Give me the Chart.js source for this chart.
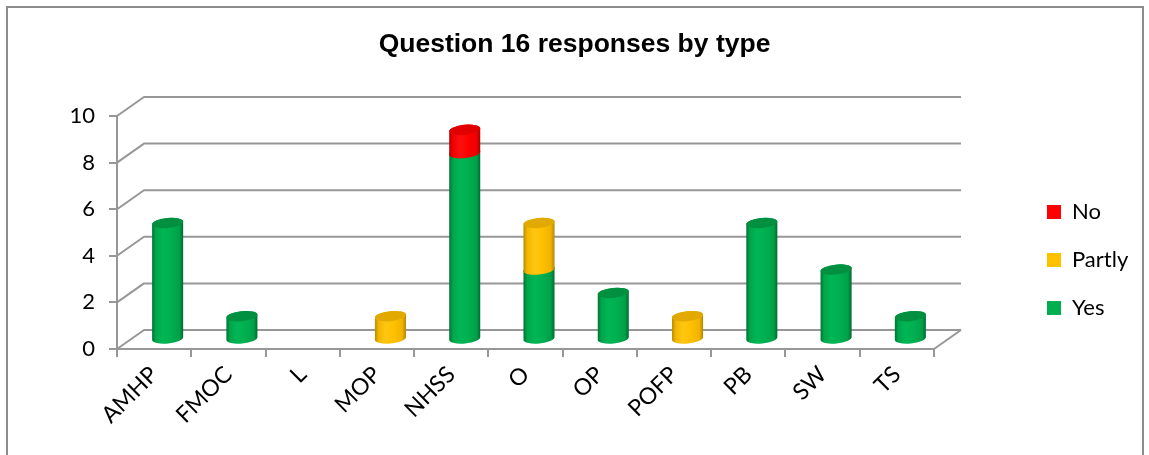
<!DOCTYPE html>
<html>
<head>
<meta charset="utf-8">
<script src="https://cdn.jsdelivr.net/npm/chart.js@4"></script>
<style>
  html, body { margin: 0; padding: 0; background: #ffffff; overflow: hidden; }
  #frame { position: absolute; left: 6px; top: 6px; width: 1134px; height: 480px; border: 2px solid #8c8c8c; }
  #wrap { position: absolute; left: 0; top: 0; width: 1149px; height: 455px; }
</style>
</head>
<body>
<div id="frame"></div>
<div id="wrap"><canvas id="c" width="1149" height="455"></canvas></div>
<script>
// Responder types and answer counts
const categories   = ['AMHP', 'FMOC', 'L', 'MOP', 'NHSS', 'O', 'OP', 'POFP', 'PB', 'SW', 'TS'];
const yesValues    = [5, 1, 0, 0, 8, 3, 2, 0, 5, 3, 1];
const partlyValues = [0, 0, 0, 1, 0, 2, 0, 1, 0, 0, 0];
const noValues     = [0, 0, 0, 0, 1, 0, 0, 0, 0, 0, 0];
const yTickValues  = [0, 2, 4, 6, 8, 10];

const LABEL_FONT = { family: 'Lato, "Open Sans", sans-serif', size: 22 };
const CATEGORY_FONT = { family: 'Lato, "Open Sans", sans-serif', size: 23 };
const GRID_COLOR = '#979797';
// depth of the 3D box (back wall offset); cylinders sit at half this depth
const DEPTH_X = 27, DEPTH_Y = -19;

const palettes = {
  Yes:    { stops: ['#007234', '#00a64b', '#00b654', '#00b050', '#00a048', '#006a30'], top: '#009040' },
  Partly: { stops: ['#b88a00', '#f2b600', '#ffc611', '#ffc000', '#f0b400', '#b08400'], top: '#e2aa00' },
  No:     { stops: ['#b00000', '#f20000', '#ff1010', '#ff0000', '#ee0000', '#a80000'], top: '#e00000' }
};

function cylinderPath(ctx, cx, yTop, yBot, rx, ry, rot) {
  ctx.beginPath();
  const c = Math.cos(rot), s = Math.sin(rot);
  ctx.moveTo(cx - rx * c, yTop - rx * s);
  ctx.lineTo(cx - rx * c, yBot - rx * s);
  ctx.ellipse(cx, yBot, rx, ry, rot, Math.PI, 0, true);
  ctx.lineTo(cx + rx * c, yTop + rx * s);
  ctx.ellipse(cx, yTop, rx, ry, rot, 0, Math.PI, true);
  ctx.closePath();
}

function drawCylinder(ctx, cx, yTop, yBot, width, pal) {
  const rx = width / 2, ry = 5, rot = -0.1;
  const g = ctx.createLinearGradient(cx - rx, 0, cx + rx, 0);
  const pos = [0, 0.12, 0.35, 0.6, 0.88, 1];
  pal.stops.forEach((col, i) => g.addColorStop(pos[i], col));
  cylinderPath(ctx, cx, yTop, yBot, rx, ry, rot);
  ctx.fillStyle = g;
  ctx.fill();
  ctx.beginPath();
  ctx.ellipse(cx, yTop, rx, ry, rot, 0, Math.PI * 2);
  ctx.fillStyle = pal.top;
  ctx.fill();
}

// Back wall gridlines, left wall and floor edges
const boxPlugin = {
  id: 'box3d',
  beforeDatasetsDraw(chart) {
    const { ctx, chartArea: a } = chart;
    const y = chart.scales.y;
    ctx.save();
    ctx.strokeStyle = GRID_COLOR;
    ctx.lineWidth = 2;
    ctx.lineJoin = 'round';
    y.ticks.forEach(t => {
      const py = y.getPixelForValue(t.value);
      ctx.beginPath();
      ctx.moveTo(a.left, py);
      ctx.lineTo(a.left + DEPTH_X, py + DEPTH_Y);
      ctx.lineTo(a.right + DEPTH_X, py + DEPTH_Y);
      ctx.stroke();
    });
    const p0 = y.getPixelForValue(0);
    ctx.beginPath();
    ctx.moveTo(a.right, p0);
    ctx.lineTo(a.right + DEPTH_X, p0 + DEPTH_Y);
    ctx.stroke();
    ctx.restore();
  }
};

// Bars drawn as cylinders standing halfway into the box depth
const cylinderPlugin = {
  id: 'cylinders',
  beforeDatasetsDraw(chart) {
    const ctx = chart.ctx;
    const dx = DEPTH_X / 2, dy = DEPTH_Y / 2;
    ctx.save();
    chart.data.labels.forEach((_, i) => {
      chart.data.datasets.forEach((ds, di) => {
        const meta = chart.getDatasetMeta(di);
        if (meta.hidden || !ds.data[i]) return;
        const bar = meta.data[i];
        drawCylinder(ctx, bar.x + dx, bar.y + dy, bar.base + dy, bar.width, palettes[ds.label]);
      });
    });
    ctx.restore();
    return false;
  }
};

// Title centred on the whole canvas, legend placed in the right margin
const placer = {
  id: 'placer',
  afterLayout(chart) {
    const t = chart.titleBlock;
    if (t) { t.left = 0; t.right = chart.width; t.width = chart.width; }
    const lg = chart.legend;
    if (!lg) return;
    const pad = lg.options.labels.padding;
    lg.left = 1047 - pad; lg.right = lg.left + lg.width;
    lg.top = 201 - pad;  lg.bottom = lg.top + lg.height;
  }
};

new Chart(document.getElementById('c'), {
  type: 'bar',
  data: {
    labels: categories,
    datasets: [
      { label: 'Yes',    data: yesValues,    backgroundColor: '#00b050' },
      { label: 'Partly', data: partlyValues, backgroundColor: '#ffc000' },
      { label: 'No',     data: noValues,     backgroundColor: '#ff0000' }
    ]
  },
  options: {
    responsive: false,
    animation: false,
    layout: { padding: { left: 0, right: 215, top: 0, bottom: 0 } },
    datasets: { bar: { categoryPercentage: 1, barPercentage: 0.42 } },
    scales: {
      x: {
        stacked: true,
        grid: { drawOnChartArea: false, tickLength: 8, color: GRID_COLOR, lineWidth: 2, offset: true },
        border: { display: true, color: GRID_COLOR, width: 2 },
        ticks: { color: '#000', font: CATEGORY_FONT, minRotation: 45, maxRotation: 45, autoSkip: false, padding: 4 },
        afterFit(s) { s.height = 106; }
      },
      y: {
        stacked: true,
        min: 0, max: 10,
        afterBuildTicks(s) { s.ticks = yTickValues.map(v => ({ value: v })); },
        grid: { drawOnChartArea: false, tickLength: 8, color: GRID_COLOR, lineWidth: 2 },
        border: { display: true, color: GRID_COLOR, width: 2 },
        ticks: { color: '#000', font: LABEL_FONT, padding: 14 },
        afterFit(s) { s.width = 117; }
      }
    },
    plugins: {
      title: {
        display: true,
        text: 'Question 16 responses by type',
        color: '#000',
        font: { family: '"Liberation Sans", Arial, sans-serif', size: 26.5, weight: 'bold' },
        padding: { top: 29, bottom: 55.2 }
      },
      legend: {
        position: 'chartArea',
        align: 'start',
        reverse: true,
        labels: { boxWidth: 14, boxHeight: 14, padding: 26, color: '#000', font: LABEL_FONT }
      },
      tooltip: { enabled: false }
    }
  },
  plugins: [boxPlugin, cylinderPlugin, placer]
});
</script>
</body>
</html>
